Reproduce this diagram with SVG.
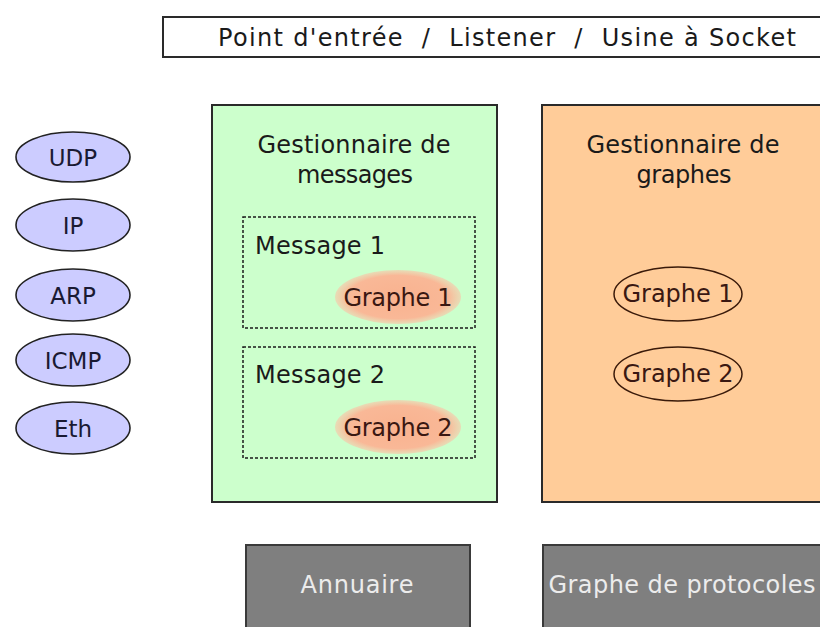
<svg xmlns="http://www.w3.org/2000/svg" width="820" height="627" viewBox="0 0 820 627">
<defs>
<style>
text{font-family:"DejaVu Sans","Liberation Sans",sans-serif;fill:#1a1a1a;font-size:24px}
.proto{fill:#ccccff;stroke:#222;stroke-width:1.6}
.ptxt{font-size:23px;text-anchor:middle;fill:#1a1a33}
.panel{stroke:#2a2a2a;stroke-width:2}
.title{text-anchor:middle}
.msg{fill:none;stroke:#1a1a1a;stroke-width:1.5;stroke-dasharray:3 2}
.gtxt{text-anchor:middle;fill:#3a1812}
.gell{fill:none;stroke:#3a1a0a;stroke-width:1.5}
.grey{fill:#7f7f7f;stroke:#3a3a3a;stroke-width:2}
.wtxt{text-anchor:middle;fill:#ececec}
</style>
<radialGradient id="pink" cx="0.5" cy="0.5" r="0.5">
<stop offset="0" stop-color="#f9b28f"/>
<stop offset="0.8" stop-color="#f9b897"/>
<stop offset="1" stop-color="#f9c6a8" stop-opacity="0.6"/>
</radialGradient>
</defs>
<rect width="820" height="627" fill="#ffffff"/>

<g id="entry">
<rect x="163" y="17" width="670" height="40" fill="#ffffff" stroke="#2a2a2a" stroke-width="2"/>
<text x="507" y="46" class="title" font-size="22" textLength="578" lengthAdjust="spacing" xml:space="preserve">Point d'entrée  /  Listener  /  Usine à Socket</text>
</g>

<g id="proto-udp"><ellipse cx="73" cy="157" rx="57" ry="25" class="proto"/><text x="73" y="166" class="ptxt">UDP</text></g>
<g id="proto-ip"><ellipse cx="73" cy="225" rx="57" ry="26" class="proto"/><text x="73" y="234" class="ptxt">IP</text></g>
<g id="proto-arp"><ellipse cx="73" cy="295" rx="57" ry="26" class="proto"/><text x="73" y="304" class="ptxt">ARP</text></g>
<g id="proto-icmp"><ellipse cx="73" cy="360" rx="57" ry="26" class="proto"/><text x="73" y="369" class="ptxt">ICMP</text></g>
<g id="proto-eth"><ellipse cx="73" cy="428" rx="57" ry="26" class="proto"/><text x="73" y="437" class="ptxt">Eth</text></g>

<g id="msg-manager">
<rect x="212" y="105" width="285" height="397" fill="#ccffcc" class="panel"/>
<text x="354" y="153" class="title" textLength="193" lengthAdjust="spacing">Gestionnaire de</text>
<text x="355" y="183" class="title" textLength="116" lengthAdjust="spacing">messages</text>
</g>

<g id="message1">
<rect x="243" y="217" width="232" height="111" class="msg"/>
<text x="255" y="254" textLength="130" lengthAdjust="spacing">Message 1</text>
<ellipse cx="398" cy="297" rx="63" ry="27" fill="url(#pink)"/>
<text x="398" y="306" class="gtxt" textLength="109" lengthAdjust="spacing">Graphe 1</text>
</g>

<g id="message2">
<rect x="243" y="347" width="232" height="111" class="msg"/>
<text x="255" y="383" textLength="130" lengthAdjust="spacing">Message 2</text>
<ellipse cx="398" cy="427" rx="63" ry="27" fill="url(#pink)"/>
<text x="398" y="436" class="gtxt" textLength="109" lengthAdjust="spacing">Graphe 2</text>
</g>

<g id="graph-manager">
<rect x="542" y="105" width="290" height="397" fill="#ffcc99" class="panel"/>
<text x="683" y="153" class="title" textLength="193" lengthAdjust="spacing">Gestionnaire de</text>
<text x="684" y="183" class="title" textLength="95" lengthAdjust="spacing">graphes</text>
</g>

<g id="graph1">
<ellipse cx="678" cy="294" rx="64" ry="27" class="gell"/>
<text x="678" y="302" class="gtxt" textLength="111" lengthAdjust="spacing">Graphe 1</text>
</g>
<g id="graph2">
<ellipse cx="678" cy="374" rx="64" ry="27" class="gell"/>
<text x="678" y="382" class="gtxt" textLength="111" lengthAdjust="spacing">Graphe 2</text>
</g>

<g id="annuaire">
<rect x="246" y="545" width="224" height="100" class="grey"/>
<text x="357" y="593" class="wtxt" textLength="113" lengthAdjust="spacing">Annuaire</text>
</g>
<g id="protocol-graph">
<rect x="543" y="545" width="290" height="100" class="grey"/>
<text x="682" y="593" class="wtxt" textLength="267" lengthAdjust="spacing">Graphe de protocoles</text>
</g>

<g id="connectors"></g>
</svg>
